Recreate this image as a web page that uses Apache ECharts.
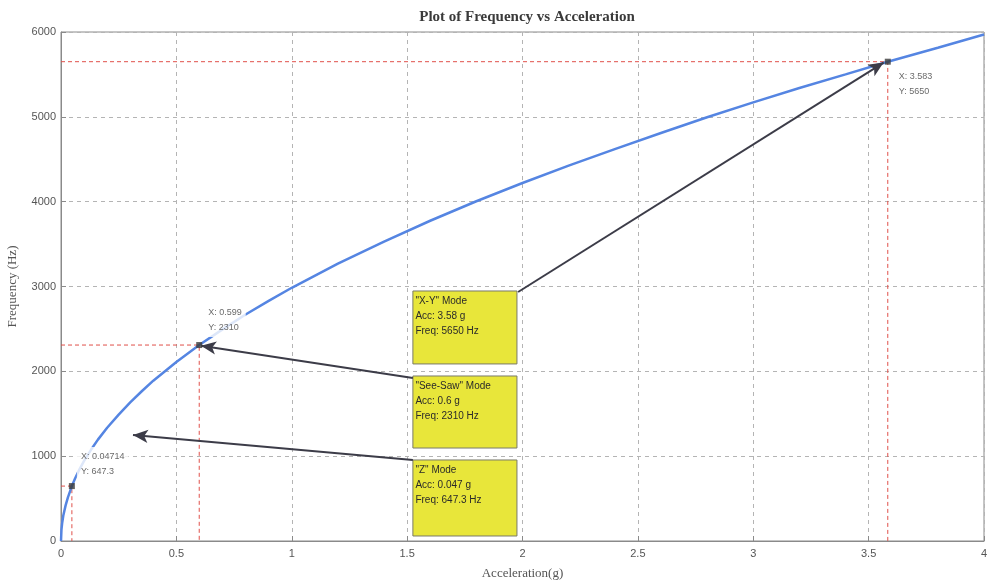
<!DOCTYPE html>
<html>
<head>
<meta charset="utf-8">
<script src="https://cdn.jsdelivr.net/npm/echarts@6/dist/echarts.min.js"></script>
<style>
  html, body { margin: 0; padding: 0; background: #fff; }
  #chart { width: 989px; height: 582px; }
</style>
</head>
<body>
<div id="chart"></div>
<script>
// Measured frequency response: acceleration (g) vs frequency (Hz)
const accel = [0, 0.002, 0.005, 0.01, 0.02, 0.03, 0.04714, 0.06, 0.08, 0.1, 0.13, 0.16, 0.2, 0.25, 0.3, 0.35, 0.4, 0.5, 0.599, 0.7, 0.8, 0.9, 1.0, 1.2, 1.4, 1.6, 1.8, 2.0, 2.2, 2.4, 2.6, 2.8, 3.0, 3.2, 3.4, 3.583, 3.8, 4.0];
const freq  = [0, 135, 210, 300, 420, 515, 647.3, 730, 845, 945, 1075, 1195, 1335, 1490, 1635, 1765, 1890, 2110, 2310, 2495, 2670, 2830, 2985, 3270, 3530, 3775, 4005, 4220, 4425, 4620, 4810, 4995, 5170, 5340, 5500, 5650, 5815, 5970];

// Data tips on the three resonant modes
const tipX = [0.04714, 0.599, 3.583];
const tipY = [647.3, 2310, 5650];
const tipText = ['X: 0.04714\nY: 647.3', 'X: 0.599\nY: 2310', 'X: 3.583\nY: 5650'];

// Mode annotation boxes: [x0, y0, x1, y1] in data units, and their notes
const modeBoxes = [
  [1.525, 2087, 1.976, 2947],
  [1.525, 1096, 1.976, 1945],
  [1.525, 59, 1.976, 955]
];
const modeNotes = [
  '"X-Y" Mode\nAcc: 3.58 g\nFreq: 5650 Hz',
  '"See-Saw" Mode\nAcc: 0.6 g\nFreq: 2310 Hz',
  '"Z" Mode\nAcc: 0.047 g\nFreq: 647.3 Hz'
];
// Arrows from each note to the curve: [fromX, fromY, toX, toY]
const modeArrows = [
  [1.981, 2935, 3.565, 5640],
  [1.525, 1922, 0.607, 2302],
  [1.525, 955, 0.312, 1250]
];

const xTicks = ['0', '0.5', '1', '1.5', '2', '2.5', '3', '3.5', '4'];

const curveData = accel.map((a, i) => [a, freq[i]]);

// Red guide lines from each data tip to both axes (an L shape per tip)
const guideSeries = tipX.map((x, i) => ({
  name: 'guide' + i, type: 'line', z: 1, silent: true,
  showSymbol: false, symbol: 'none',
  lineStyle: { color: '#e0504a', width: 1, type: [4, 3] },
  data: [[0, tipY[i]], [x, tipY[i]], [x, 0]]
}));

const tipLabelOffsets = [[-3, -22], [-3, -25], [-1, 22]];

const chart = echarts.init(document.getElementById('chart'));
chart.setOption({
  backgroundColor: '#ffffff',
  animation: false,
  title: {
    text: 'Plot of Frequency vs Acceleration',
    left: 522, textAlign: 'center', top: 5,
    textStyle: { fontFamily: 'Liberation Serif', fontWeight: 'bold', fontSize: 15, color: '#3a3a3a' }
  },
  grid: {
    left: 61, right: 5, top: 32, bottom: 41,
    outerBoundsMode: 'none', containLabel: false,
    show: true, borderColor: '#8a8a8a', borderWidth: 1
  },
  xAxis: {
    type: 'value', min: 0, max: 4, interval: 0.5,
    name: 'Acceleration(g)', nameLocation: 'middle', nameGap: 26,
    nameTextStyle: { fontFamily: 'Liberation Serif', fontSize: 13, color: '#555' },
    axisLine: { lineStyle: { color: '#8a8a8a' } },
    axisTick: { inside: true, length: 5, lineStyle: { color: '#8a8a8a' } },
    axisLabel: {
      margin: 7, fontFamily: 'Liberation Sans', fontSize: 11, color: '#555',
      formatter: v => xTicks[Math.round(v / 0.5)]
    },
    splitLine: { lineStyle: { color: '#b4b4b4', type: [4, 4] } }
  },
  yAxis: {
    type: 'value', min: 0, max: 6000, interval: 1000,
    name: 'Frequency (Hz)', nameLocation: 'middle', nameGap: 42,
    nameTextStyle: { fontFamily: 'Liberation Serif', fontSize: 13, color: '#555' },
    axisLine: { lineStyle: { color: '#8a8a8a' } },
    axisTick: { inside: true, length: 5, lineStyle: { color: '#8a8a8a' } },
    axisLabel: { margin: 5, fontFamily: 'Liberation Sans', fontSize: 11, color: '#555', formatter: v => String(v) },
    splitLine: { lineStyle: { color: '#b4b4b4', type: [4, 4] } }
  },
  series: guideSeries.concat([
    {
      name: 'Frequency', type: 'line', data: curveData, z: 2,
      showSymbol: false, smooth: false,
      lineStyle: { color: '#5585e2', width: 2.5 }
    },
    {
      name: 'notes', type: 'line', data: [], z: 3,
      markArea: {
        silent: true,
        itemStyle: { color: '#e8e63a', borderColor: '#7a7a6a', borderWidth: 1 },
        label: {
          show: true, position: 'insideTopLeft', distance: 3,
          fontFamily: 'Liberation Sans', fontSize: 10, lineHeight: 15, color: '#2a2a2a'
        },
        data: modeBoxes.map((b, i) => [
          { coord: [b[0], b[3]], name: modeNotes[i] },
          { coord: [b[2], b[1]] }
        ])
      },
      markLine: {
        silent: true, symbol: ['none', 'arrow'], symbolSize: [10, 15],
        lineStyle: { color: '#3c3c48', width: 2, type: 'solid' },
        itemStyle: { color: '#3c3c48' },
        label: { show: false },
        data: modeArrows.map(a => [{ coord: [a[0], a[1]] }, { coord: [a[2], a[3]] }])
      }
    },
    {
      name: 'tips', type: 'scatter', z: 5,
      symbol: 'rect', symbolSize: 6,
      itemStyle: { color: '#3a3a3a' },
      data: tipX.map((x, i) => ({
        value: [x, tipY[i]],
        label: {
          show: true, position: 'right', offset: tipLabelOffsets[i],
          formatter: tipText[i],
          fontFamily: 'Liberation Sans', fontSize: 9, lineHeight: 15, color: '#444',
          backgroundColor: '#ffffff', padding: [2, 4]
        }
      }))
    }
  ])
});
</script>
</body>
</html>
